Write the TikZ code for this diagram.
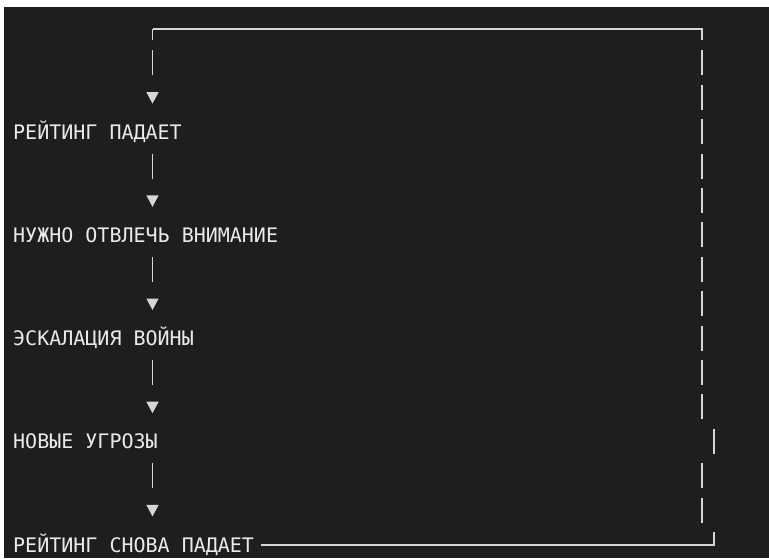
\documentclass[tikz,border=0pt]{standalone}
\usepackage{fontspec}
\newfontfamily\termfont{DejaVu Sans Mono}
\usetikzlibrary{arrows.meta,calc}
\definecolor{cBg}  {HTML}{1E1E1E}
\definecolor{cInk} {HTML}{EAEAEA}
\definecolor{cWire}{HTML}{D6D6D6}
\tikzset{
  lbl/.style ={font=\termfont\fontsize{20}{20}\selectfont,text=cInk,
               inner sep=0pt,anchor=base west},
  wire/.style={draw=cWire,line width=1.4pt},
  flow/.style={wire,dash pattern=on 0pt off 14.4pt on 25pt off 140pt,
               -{Triangle[length=11.5pt,width=12pt]},shorten >=35.6pt},
}
\begin{document}
\begin{tikzpicture}[x=1pt,y=-1pt]

\def\dy{34.4}   % one terminal row
\def\yo{29}     % row 0
\def\xl{152.5}  % left column
\def\xr{702}    % right column

% ===== screen ===========================================================
\useasboundingbox (0,0) rectangle (769,558);
\fill[white] (0,0) rectangle (769,558);
\fill[cBg] (4,7) rectangle (769,558);

\coordinate (colL) at (\xl,0);
\coordinate (cTL) at (\xl,\yo);
\coordinate (cTR) at (\xr,\yo);
\coordinate (cBR) at (714,\yo+15*\dy);

% ===== steps ============================================================
\foreach [count=\i from 0] \s in {%
  РЕЙТИНГ ПАДАЕТ,
  НУЖНО ОТВЛЕЧЬ ВНИМАНИЕ,
  ЭСКАЛАЦИЯ ВОЙНЫ,
  НОВЫЕ УГРОЗЫ,
  РЕЙТИНГ СНОВА ПАДАЕТ}{%
    \pgfmathsetmacro\y{\yo+(3*\i+3)*\dy+7}
    \node[lbl] (r\i) at (13,\y) {\s};
  }

% ===== arrows down ======================================================
\draw[flow,dash pattern=on 11pt off 10.4pt on 25pt off 140pt]
  (cTL) -- (r0.base -| colL);
\foreach \i [evaluate=\i as \j using int(\i+1)] in {0,...,3}{%
  \draw[flow] (r\i.base -| colL) -- (r\j.base -| colL);
}

% ===== return loop ======================================================
\draw[wire,shorten <=7pt] (r4.base east |- cBR) -- (cBR) -- ++(0,-13);
\foreach \k in {1,...,14}{%
  \pgfmathsetmacro\y{\yo+\k*\dy}
  \pgfmathsetmacro\x{\k==12 ? 714 : \xr}
  \draw[wire] (\x,\y-13) -- (\x,\y+12);
}
\draw[wire] (cTL) -- (cTR) -- ++(0,11);
\end{tikzpicture}
\end{document}
